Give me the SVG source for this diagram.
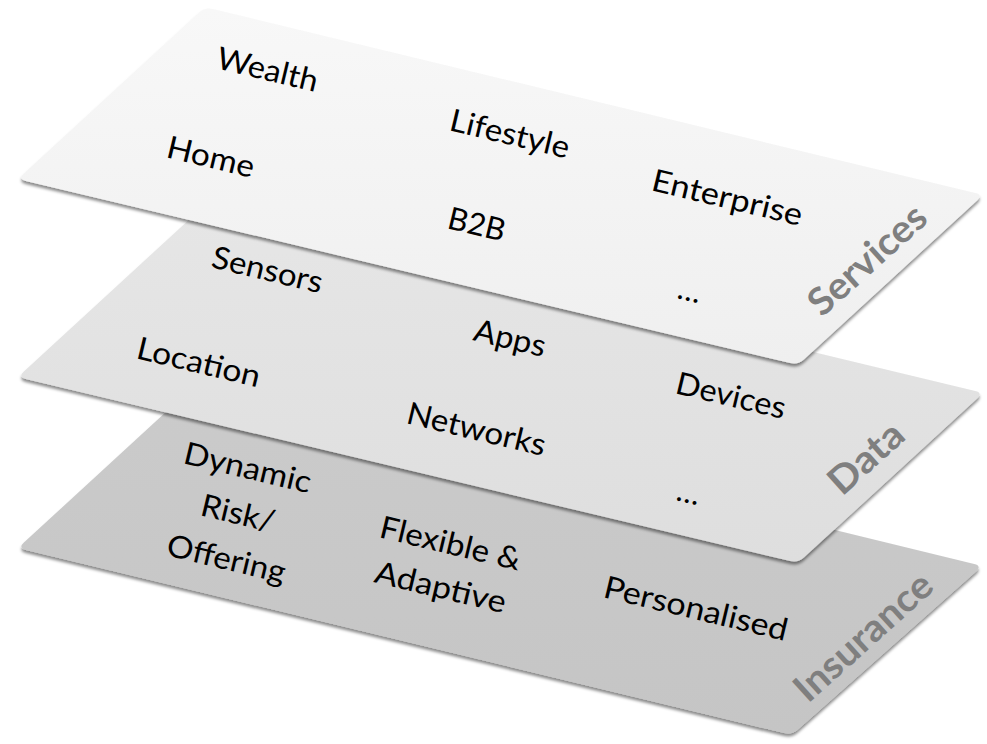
<svg xmlns="http://www.w3.org/2000/svg" width="987" height="744" viewBox="0 0 987 744">
  <defs>
    <linearGradient id="gS" x1="0" y1="0" x2="0" y2="1">
      <stop offset="0" stop-color="#f8f8f8"/>
      <stop offset="1" stop-color="#efefef"/>
    </linearGradient>
    <linearGradient id="gD" x1="0" y1="0" x2="0" y2="1">
      <stop offset="0" stop-color="#e6e6e6"/>
      <stop offset="1" stop-color="#dedede"/>
    </linearGradient>
    <linearGradient id="gI" x1="0" y1="0" x2="0" y2="1">
      <stop offset="0" stop-color="#cbcbcb"/>
      <stop offset="1" stop-color="#c5c5c5"/>
    </linearGradient>
    <filter id="sh" x="-5%" y="-5%" width="110%" height="115%">
      <feDropShadow dx="0" dy="3" stdDeviation="1.8" flood-color="#000" flood-opacity="0.45"/>
    </filter>
    <path id="plane" d="M212.8,8.9 L975.2,193.1 Q983,195 977.1,200.4 L803.9,359.6 Q798,365 790.2,363.1 L25.8,180.9 Q18,179 23.9,173.6 L199.1,12.4 Q205,7 212.8,8.9 Z"/>
    <path id="planeI" d="M212.8,377.9 L974.2,564.1 Q982,566 976.1,571.4 L797.9,729.6 Q792,735 784.2,733.1 L25.8,549.9 Q18,548 23.9,542.6 L199.1,381.4 Q205,376 212.8,377.9 Z"/>
  </defs>
  <style>
    .t { font-family: Lato, "Liberation Sans", sans-serif; font-size: 31px; fill: #000; }
    .lbl { font-family: Lato, "Liberation Sans", sans-serif; font-size: 38px; font-weight: bold; fill: #7f7f7f; }
    .dots { font-family: Lato, "Liberation Sans", sans-serif; font-size: 31px; fill: #000; letter-spacing: 2px; }
  </style>

  <g id="insurance">
    <use href="#planeI" fill="url(#gI)" filter="url(#sh)"/>
    <text class="t" transform="translate(182,463) rotate(13.5)" textLength="130" lengthAdjust="spacingAndGlyphs">Dynamic</text>
    <text class="t" transform="translate(199,515) rotate(13.5)" textLength="75" lengthAdjust="spacingAndGlyphs">Risk/</text>
    <text class="t" transform="translate(165,555) rotate(13.5)" textLength="121" lengthAdjust="spacingAndGlyphs">Offering</text>
    <text class="t" transform="translate(378,537) rotate(13.5)" textLength="144" lengthAdjust="spacingAndGlyphs">Flexible &amp;</text>
    <text class="t" transform="translate(373,582) rotate(13.5)" textLength="134" lengthAdjust="spacingAndGlyphs">Adaptive</text>
    <text class="t" transform="translate(602,597) rotate(13.5)" textLength="188" lengthAdjust="spacingAndGlyphs">Personalised</text>
    <text class="lbl" transform="translate(808,704) rotate(-42)" textLength="172" lengthAdjust="spacingAndGlyphs">Insurance</text>
  </g>

  <g id="data">
    <use href="#plane" transform="translate(0,198)" fill="url(#gD)" filter="url(#sh)"/>
    <text class="t" transform="translate(210,267) rotate(13.5)" textLength="113" lengthAdjust="spacingAndGlyphs">Sensors</text>
    <text class="t" transform="translate(135,358) rotate(13.5)" textLength="126" lengthAdjust="spacingAndGlyphs">Location</text>
    <text class="t" transform="translate(472,340) rotate(13.5)" textLength="73" lengthAdjust="spacingAndGlyphs">Apps</text>
    <text class="t" transform="translate(405,423) rotate(13.5)" textLength="142" lengthAdjust="spacingAndGlyphs">Networks</text>
    <text class="t" transform="translate(674,393) rotate(13.5)" textLength="112" lengthAdjust="spacingAndGlyphs">Devices</text>
    <text class="t" transform="translate(675,500) rotate(13.5)">…</text>
    <text class="lbl" transform="translate(842,497) rotate(-42)" textLength="88" lengthAdjust="spacingAndGlyphs">Data</text>
  </g>

  <g id="services">
    <use href="#plane" fill="url(#gS)" filter="url(#sh)"/>
    <text class="t" transform="translate(215,68) rotate(13.5)" textLength="103" lengthAdjust="spacingAndGlyphs">Wealth</text>
    <text class="t" transform="translate(165,157) rotate(13.5)" textLength="89" lengthAdjust="spacingAndGlyphs">Home</text>
    <text class="t" transform="translate(448,130) rotate(13.5)" textLength="122" lengthAdjust="spacingAndGlyphs">Lifestyle</text>
    <text class="t" transform="translate(446,228) rotate(13.5)" textLength="58" lengthAdjust="spacingAndGlyphs">B2B</text>
    <text class="t" transform="translate(650,190) rotate(13.5)" textLength="154" lengthAdjust="spacingAndGlyphs">Enterprise</text>
    <text class="t" transform="translate(676,298) rotate(13.5)">…</text>
    <text class="lbl" transform="translate(822,318) rotate(-42)" textLength="145" lengthAdjust="spacingAndGlyphs">Services</text>
  </g>

  <g id="connectors"></g>
</svg>
